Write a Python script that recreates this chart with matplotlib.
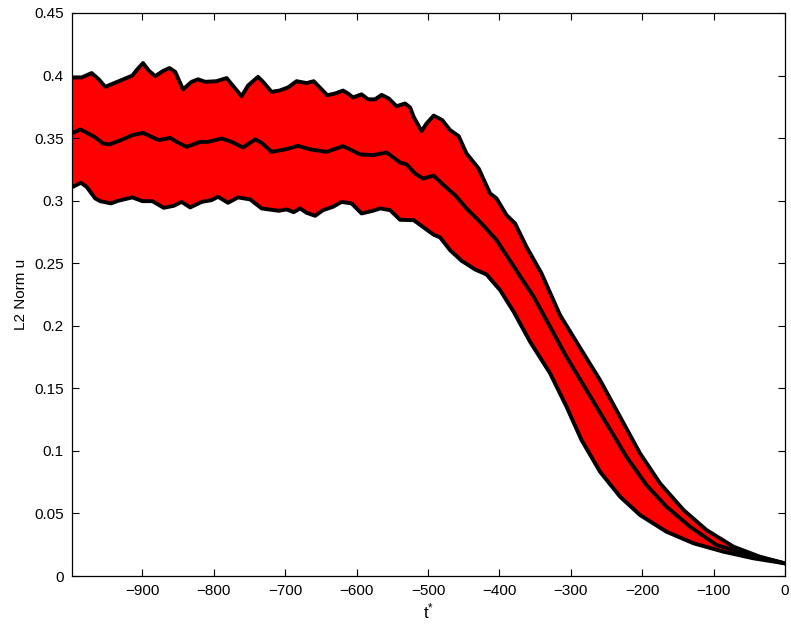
import numpy as np
import matplotlib
matplotlib.use("Agg")
import matplotlib.pyplot as plt

plt.rcParams['font.family'] = ['Liberation Sans', 'DejaVu Sans']

# Upper bound
t_upper = [-999, -985, -971, -961, -952, -935, -914, -907, -899, -891, -882, -871, -862, -854,
           -843, -831, -822, -812, -796, -782, -770, -761, -752, -738, -731, -719, -708, -696,
           -684, -670, -660, -649, -641, -630, -619, -612, -605, -593, -584, -574, -565, -555,
           -544, -532, -525, -520, -509, -502, -492, -480, -469, -457, -446, -429, -413, -404,
           -390, -378, -362, -341, -315, -285, -259, -231, -203, -175, -142, -110, -72, -35, 0]
v_upper = [0.3985, 0.3985, 0.402, 0.397, 0.391, 0.395, 0.400, 0.405, 0.410, 0.404, 0.3995, 0.4037,
           0.406, 0.403, 0.389, 0.395, 0.397, 0.395, 0.3955, 0.398, 0.3897, 0.3835, 0.392, 0.399,
           0.395, 0.387, 0.388, 0.3905, 0.3955, 0.394, 0.3955, 0.389, 0.3843, 0.3857, 0.388, 0.3857,
           0.3825, 0.385, 0.381, 0.381, 0.3846, 0.3817, 0.3755, 0.3777, 0.3745, 0.367, 0.3556, 0.3617,
           0.368, 0.3644, 0.3564, 0.3516, 0.3377, 0.3257, 0.3058, 0.3018, 0.2885, 0.2818, 0.2631,
           0.2419, 0.2085, 0.1806, 0.1566, 0.1273, 0.098, 0.0741, 0.0527, 0.0368, 0.0234, 0.0154, 0.0101]

# Mean
t_mean = [-999, -987, -967, -955, -946, -930, -914, -899, -889, -877, -861, -852, -838, -819,
          -808, -789, -775, -759, -742, -733, -719, -700, -682, -665, -642, -619, -595, -577,
          -558, -539, -530, -518, -507, -492, -478, -462, -446, -425, -404, -378, -352, -329,
          -306, -278, -250, -222, -194, -166, -133, -96, -49, 0]
v_mean = [0.3537, 0.357, 0.351, 0.3457, 0.345, 0.3484, 0.3524, 0.3542, 0.3515, 0.3484, 0.3502,
          0.347, 0.343, 0.347, 0.347, 0.3497, 0.347, 0.3425, 0.349, 0.3462, 0.339, 0.341, 0.3438,
          0.341, 0.339, 0.3436, 0.337, 0.3364, 0.3385, 0.3305, 0.329, 0.3217, 0.3177, 0.320, 0.3124,
          0.3044, 0.2938, 0.2818, 0.2685, 0.2458, 0.2232, 0.1992, 0.1752, 0.1486, 0.122, 0.0953,
          0.0727, 0.0554, 0.0394, 0.0248, 0.0168, 0.0101]

# Lower bound
t_lower = [-999, -986, -978, -966, -959, -944, -934, -914, -900, -886, -870, -856, -845, -833,
           -817, -803, -794, -780, -766, -749, -733, -709, -698, -688, -679, -670, -658, -647,
           -633, -621, -607, -593, -577, -567, -553, -539, -520, -507, -492, -483, -469, -453,
           -434, -418, -399, -380, -357, -329, -306, -285, -259, -231, -203, -166, -128, -86, -44, 0]
v_lower = [0.3106, 0.3143, 0.311, 0.3018, 0.2996, 0.2978, 0.2999, 0.3026, 0.2996, 0.2996, 0.2943,
           0.2959, 0.299, 0.2946, 0.299, 0.3004, 0.3031, 0.2983, 0.3026, 0.301, 0.2938, 0.2919,
           0.293, 0.2908, 0.2938, 0.2903, 0.2879, 0.2924, 0.2951, 0.299, 0.2978, 0.2898, 0.2919,
           0.2938, 0.2924, 0.2847, 0.2844, 0.279, 0.2728, 0.2706, 0.2604, 0.252, 0.245, 0.241,
           0.2285, 0.2112, 0.1872, 0.162, 0.1353, 0.1087, 0.0833, 0.0634, 0.0487, 0.0354, 0.0261,
           0.0194, 0.0141, 0.0101]

x_ticks = [-900, -800, -700, -600, -500, -400, -300, -200, -100, 0]
y_ticks = [0, 0.05, 0.1, 0.15, 0.2, 0.25, 0.3, 0.35, 0.4, 0.45]
y_ticklabels = ['0', '0.05', '0.1', '0.15', '0.2', '0.25', '0.3', '0.35', '0.4', '0.45']

fig = plt.figure(figsize=(7.91, 6.25), dpi=100)
ax = fig.add_axes([72 / 791, 49 / 625, 713 / 791, 563 / 625])

poly_x = np.concatenate([t_upper, t_lower[::-1]])
poly_y = np.concatenate([v_upper, v_lower[::-1]])
ax.fill(poly_x, poly_y, color='#ff0000', linewidth=0)

for t, v in [(t_upper, v_upper), (t_mean, v_mean), (t_lower, v_lower)]:
    ax.plot(t, v, color='black', linewidth=2.8, solid_joinstyle='round', solid_capstyle='round')

ax.set_xlim(-998.5, 0)
ax.set_ylim(0, 0.45)
ax.set_xticks(x_ticks)
ax.set_yticks(y_ticks)
ax.set_yticklabels(y_ticklabels)
ax.tick_params(direction='in', length=5, width=0.8, top=True, right=True, labelsize=11, pad=6)
for s in ax.spines.values():
    s.set_linewidth(0.9)
ax.set_xlabel(r'$\mathregular{t^{*}}$', fontsize=12, labelpad=2)
ax.set_ylabel('L2 Norm u', fontsize=11, labelpad=4)

fig.savefig('out.png', dpi=100)
